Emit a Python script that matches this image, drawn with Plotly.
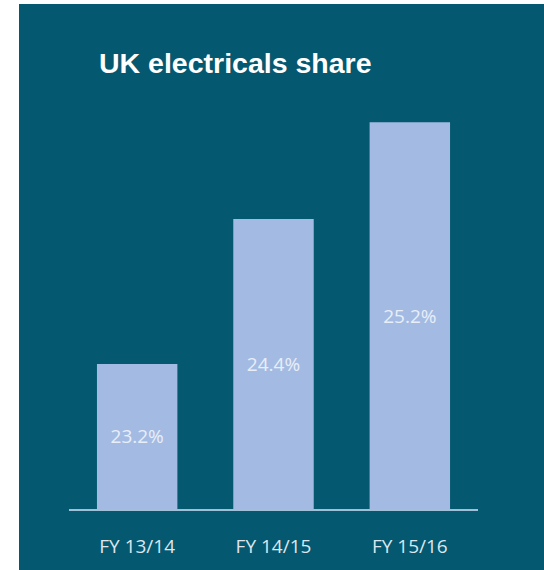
import plotly.graph_objects as go

# Financial years and UK electricals market share (%)
years = ["FY 13/14", "FY 14/15", "FY 15/16"]
share = [23.2, 24.4, 25.2]
axis_floor = 22.0  # value at the baseline of the bars

PANEL = "#04586f"
BAR = "#a3bbe2"

W, H = 544, 570
ML, MR, MT, MB = 69, 66, 86, 61

fig = go.Figure(
    go.Bar(
        x=years,
        y=[v - axis_floor for v in share],
        base=axis_floor,
        marker=dict(color=BAR, line=dict(width=0)),
        text=[f"{v:.1f}%" for v in share],
        textposition="inside",
        insidetextanchor="middle",
        textangle=0,
        textfont=dict(family="Open Sans", size=19, color="#e8eef8"),
        hoverinfo="skip",
    )
)

plot_w = W - ML - MR
plot_h = H - MT - MB

# white strips around the dark panel (left edge and top edge)
fig.add_shape(type="rect", xref="paper", yref="paper", layer="below",
              x0=-ML / plot_w, x1=(19 - ML) / plot_w,
              y0=-MB / plot_h, y1=(H - MB) / plot_h,
              fillcolor="white", line=dict(width=0))
fig.add_shape(type="rect", xref="paper", yref="paper", layer="below",
              x0=-ML / plot_w, x1=(W - ML) / plot_w,
              y0=(H - MB - 4) / plot_h, y1=(H - MB) / plot_h,
              fillcolor="white", line=dict(width=0))

fig.add_annotation(
    text="<b>UK electricals share</b>",
    xref="paper", yref="paper",
    x=(97 - ML) / plot_w, xanchor="left",
    y=(H - MB - 63) / plot_h, yanchor="middle",
    showarrow=False,
    font=dict(family="Liberation Sans", size=28.5, color="white"),
)

fig.update_layout(
    width=W, height=H,
    margin=dict(l=ML, r=MR, t=MT, b=MB, pad=0),
    paper_bgcolor=PANEL,
    plot_bgcolor="rgba(0,0,0,0)",
    bargap=0.41,
    showlegend=False,
    xaxis=dict(
        showline=True, linecolor="#9fc0d6", linewidth=2,
        showgrid=False, zeroline=False, ticks="",
        tickfont=dict(family="Open Sans", size=19, color="#dde6ee"),
        ticklabelstandoff=19,
        fixedrange=True,
    ),
    yaxis=dict(
        range=[axis_floor, 25.5], visible=False, showgrid=False, zeroline=False,
        fixedrange=True,
    ),
)

fig.write_html("out.html", config={"displayModeBar": False})
